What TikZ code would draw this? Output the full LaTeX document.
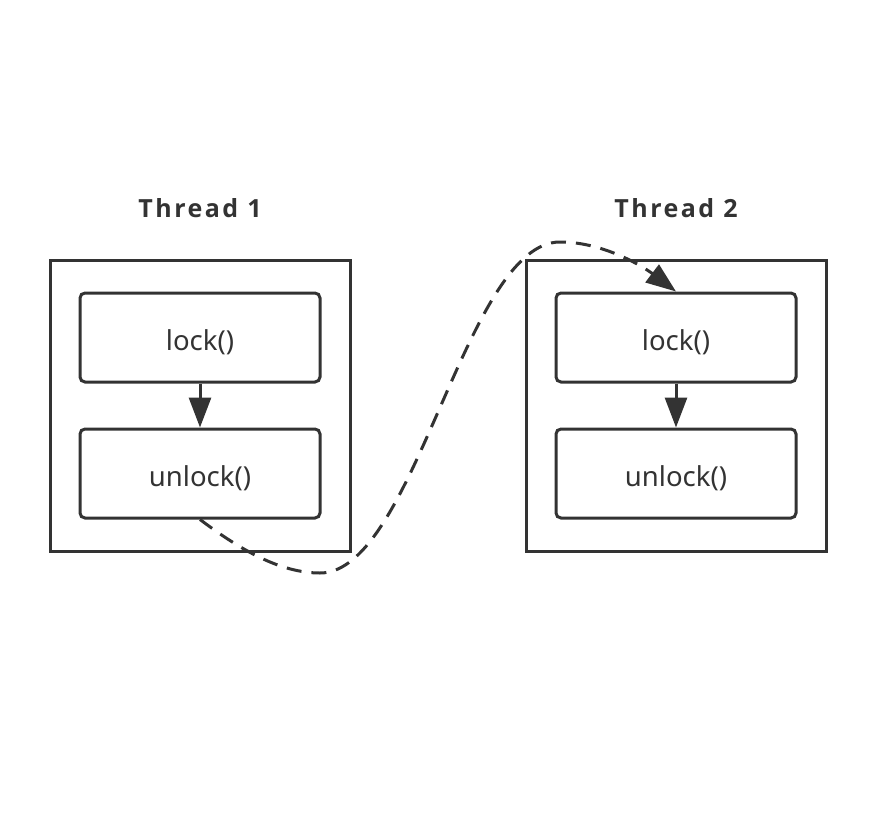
\documentclass[tikz,border=0pt]{standalone}
\usepackage{fontspec}
\setmainfont{Noto Sans}
\newfontfamily\titlefont[LetterSpace=10]{Open Sans}
\usetikzlibrary{arrows.meta}
\definecolor{ink}{HTML}{333333}
\tikzset{
  outerbox/.style={draw=ink, line width=3pt, minimum width=300pt, minimum height=291pt, inner sep=0pt},
  fnbox/.style={draw=ink, line width=3pt, rounded corners=5pt, minimum width=240pt, minimum height=89pt, inner sep=0pt, text height=28pt, text depth=3pt, font=\fontsize{27.5}{30}\selectfont, text=ink},
  title/.style={font=\titlefont\bfseries\fontsize{25}{30}\selectfont, text=ink},
  arr/.style={draw=ink, line width=3pt, -{Triangle[length=30pt,width=22pt]}},
  dasharr/.style={draw=ink, line width=3pt, dash pattern=on 15pt off 10pt, -{Triangle[length=30pt,width=22pt]}}
}
\begin{document}
\begin{tikzpicture}[x=1pt,y=-1pt]
\useasboundingbox (0,0) rectangle (876,822);
\fill[white] (0,0) rectangle (876,822);
\node[title] (t1) at (200,208) {Thread 1};
\node[title] (t2) at (676,208) {Thread 2};
\node[outerbox] (box1) at (200,405.5) {};
\node[outerbox] (box2) at (676,405.5) {};
\node[fnbox] (lock1) at (200,337.5) {lock()};
\node[fnbox] (unlock1) at (200,473.5) {unlock()};
\node[fnbox] (lock2) at (676,337.5) {lock()};
\node[fnbox] (unlock2) at (676,473.5) {unlock()};
\draw[arr] (lock1) -- (unlock1);
\draw[arr] (lock2) -- (unlock2);
\coordinate (low) at (320,573);
\coordinate (high) at (560,242);
\draw[dasharr] (unlock1.south) .. controls +(40,30) and (280,573) .. (low)
  .. controls (415,573) and (465,242) .. (high)
  .. controls (605,242) and (645,268) .. (lock2.north);
\end{tikzpicture}
\end{document}
